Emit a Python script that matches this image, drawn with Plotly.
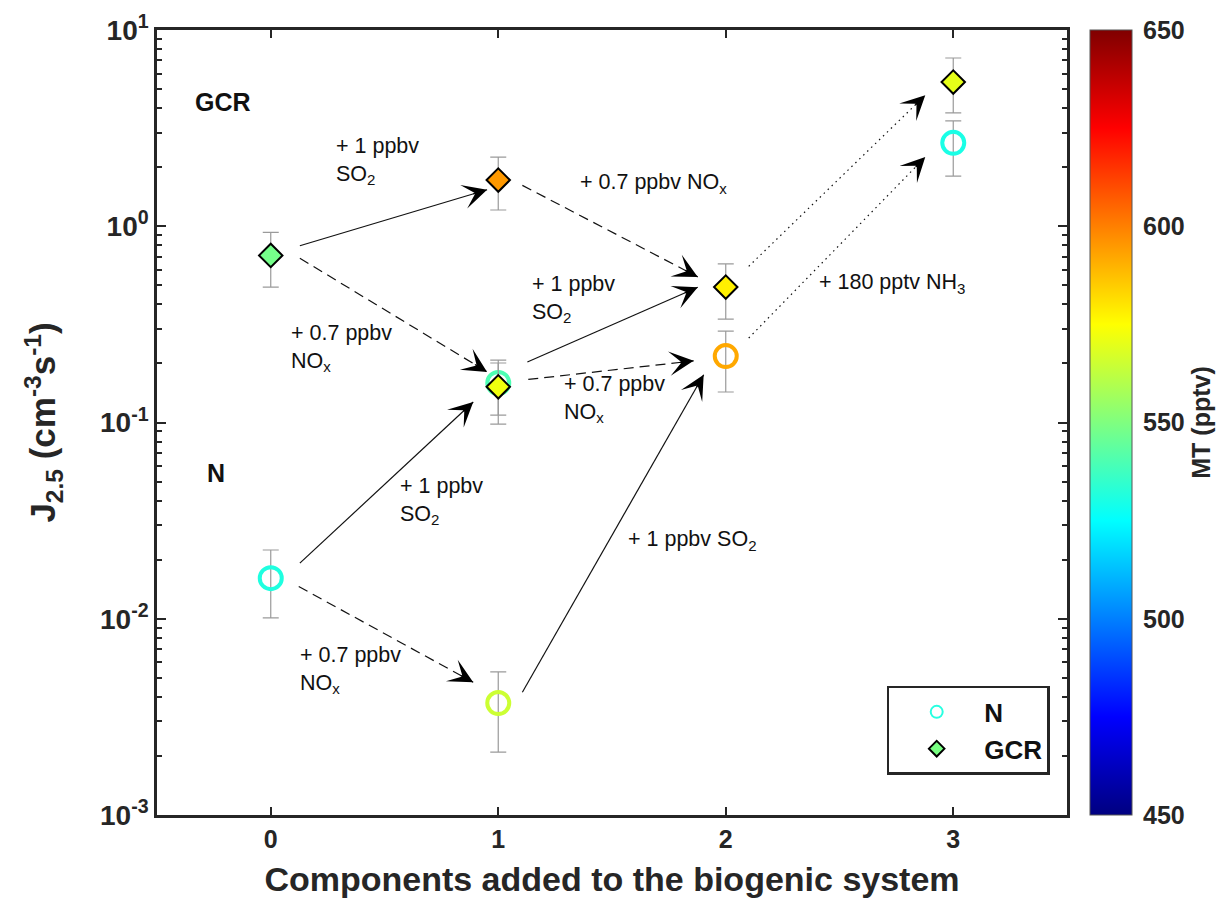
import math
import plotly.graph_objects as go

# ---------------- data ----------------
x_pos = [0, 1, 1, 2, 3]

n_y = [0.0161, 0.159, 0.00372, 0.218, 2.66]
n_up = [0.0224, 0.208, 0.00536, 0.292, 3.44]
n_lo = [0.0101, 0.109, 0.00209, 0.143, 1.80]
n_mt = [531, 540, 565, 592, 530]

gcr_y = [0.71, 1.72, 0.152, 0.49, 5.43]
gcr_up = [0.93, 2.25, 0.201, 0.643, 7.2]
gcr_lo = [0.49, 1.21, 0.098, 0.336, 3.78]
gcr_mt = [548, 595, 572, 578, 570]

y_tickvals = [1e-3, 1e-2, 1e-1, 1e0, 1e1]
y_ticktext = ["10<sup>-3</sup>", "10<sup>-2</sup>", "10<sup>-1</sup>", "10<sup>0</sup>", "10<sup>1</sup>"]
x_tickvals = [0, 1, 2, 3]
cb_tickvals = [450, 500, 550, 600, 650]

# (series, idx) -> (series, idx), line style, [fx0, fx1, dy0px, dy1px]
edges = [
    (("G", 0), ("G", 1), "solid", [0.128, 0.951, 0, 6]),
    (("G", 0), ("G", 2), "dash", [0.128, 0.951, -14, -8.5]),
    (("G", 1), ("G", 3), "dash", [0.106, 0.877, -6, 3]),
    (("G", 2), ("G", 3), "solid", [0.128, 0.877, -12, -12]),
    (("N", 1), ("N", 3), "dash", [0.132, 0.859, 0, 1]),
    (("N", 0), ("N", 1), "solid", [0.128, 0.89, 10, -2.5]),
    (("N", 0), ("N", 2), "dash", [0.123, 0.89, -7, -7]),
    (("N", 2), ("N", 3), "solid", [0.106, 0.903, 26, -15]),
    (("G", 3), ("G", 4), "dot", [0.101, 0.877, 0, -12]),
    (("N", 3), ("N", 4), "dot", [0.101, 0.877, 3.5, -12]),
]

labels = [
    ("+ 1 ppbv<br>SO<sub>2</sub>", 0.28, 0.33),
    ("+ 0.7 ppbv NO<sub>x</sub>", 1.35, 0.22),
    ("+ 1 ppbv<br>SO<sub>2</sub>", 1.14, -0.37),
    ("+ 180 pptv NH<sub>3</sub>", 2.4, -0.29),
    ("+ 0.7 ppbv<br>NO<sub>x</sub>", 0.08, -0.62),
    ("+ 0.7 ppbv<br>NO<sub>x</sub>", 1.28, -0.88),
    ("+ 1 ppbv<br>SO<sub>2</sub>", 0.56, -1.4),
    ("+ 1 ppbv SO<sub>2</sub>", 1.56, -1.6),
    ("+ 0.7 ppbv<br>NO<sub>x</sub>", 0.12, -2.26),
]

# ---------------- layout constants ----------------
W, H = 1232, 911
ML, MR, MT_, MB = 157, 165, 30, 96
PW, PH = W - ML - MR, H - MT_ - MB
XR = [-0.5, 3.5]
YR = [-3, 1]
FONT = "Liberation Sans, Arial, sans-serif"
AX = "#262626"

jet = [[0.0, "rgb(0,0,128)"], [0.125, "rgb(0,0,255)"], [0.375, "rgb(0,255,255)"],
       [0.625, "rgb(255,255,0)"], [0.875, "rgb(255,0,0)"], [1.0, "rgb(128,0,0)"]]


def to_px(x, ly):
    return (ML + (x - XR[0]) / (XR[1] - XR[0]) * PW,
            MT_ + (YR[1] - ly) / (YR[1] - YR[0]) * PH)


def from_px(px, py):
    return (XR[0] + (px - ML) / PW * (XR[1] - XR[0]),
            YR[1] - (py - MT_) / PH * (YR[1] - YR[0]))


pts = {"N": n_y, "G": gcr_y}

fig = go.Figure()
annotations = []

for (s0, i0), (s1, i1), style, (fx0, fx1, dy0, dy1) in edges:
    p0 = to_px(x_pos[i0], math.log10(pts[s0][i0]))
    p1 = to_px(x_pos[i1], math.log10(pts[s1][i1]))
    a = (p0[0] + fx0 * (p1[0] - p0[0]), p0[1] + fx0 * (p1[1] - p0[1]) + dy0)
    b = (p0[0] + fx1 * (p1[0] - p0[0]), p0[1] + fx1 * (p1[1] - p0[1]) + dy1)
    da, db = from_px(*a), from_px(*b)
    fig.add_trace(go.Scatter(
        x=[da[0], db[0]], y=[10 ** da[1], 10 ** db[1]], mode="lines",
        line=dict(color="#111111", width=1.2,
                  dash={"solid": "solid", "dash": "10px,6px", "dot": "1.5px,4px"}[style]),
        showlegend=False, hoverinfo="skip"))
    L = math.hypot(b[0] - a[0], b[1] - a[1])
    ux, uy = (b[0] - a[0]) / L, (b[1] - a[1]) / L
    annotations.append(dict(
        x=db[0], y=db[1], xref="x", yref="y", ax=-ux * 16, ay=-uy * 16,
        axref="pixel", ayref="pixel", showarrow=True, arrowhead=3, arrowsize=3.7,
        arrowwidth=1.1, arrowcolor="#000000", standoff=0, text=""))

# N series
fig.add_trace(go.Scatter(
    x=x_pos, y=n_y, mode="markers", showlegend=False,
    error_y=dict(type="data", symmetric=False,
                 array=[u - v for u, v in zip(n_up, n_y)],
                 arrayminus=[v - l for v, l in zip(n_y, n_lo)],
                 color="#9a9a9a", thickness=1.2, width=8),
    marker=dict(symbol="circle-open", size=22, color=n_mt, cmin=450, cmax=650,
                colorscale=jet, line=dict(width=4))))

# GCR series
fig.add_trace(go.Scatter(
    x=x_pos, y=gcr_y, mode="markers", showlegend=False,
    error_y=dict(type="data", symmetric=False,
                 array=[u - v for u, v in zip(gcr_up, gcr_y)],
                 arrayminus=[v - l for v, l in zip(gcr_y, gcr_lo)],
                 color="#9a9a9a", thickness=1.2, width=8),
    marker=dict(symbol="diamond", size=18, color=gcr_mt, cmin=450, cmax=650,
                colorscale=jet, line=dict(width=2, color="#000000"),
                colorbar=dict(
                    x=(1090 - ML) / PW, xanchor="left", xref="paper", xpad=0, ypad=0,
                    y=0.5, yanchor="middle", len=1.0, lenmode="fraction",
                    thickness=42, thicknessmode="pixels",
                    outlinecolor="#555555", outlinewidth=1,
                    tickvals=cb_tickvals, ticks="outside", ticklen=6, tickcolor="rgba(0,0,0,0)",
                    tickfont=dict(family=FONT, size=25, color=AX, weight="bold"),
                    title=dict(text="MT (pptv)", side="right",
                               font=dict(family=FONT, size=25, color=AX, weight="bold"))))))

# legend proxies
fig.add_trace(go.Scatter(x=[None], y=[None], mode="markers", name="N",
                         marker=dict(symbol="circle-open", size=13, color="rgb(40,255,225)",
                                     line=dict(width=4))))
fig.add_trace(go.Scatter(x=[None], y=[None], mode="markers", name="GCR",
                         marker=dict(symbol="diamond", size=14, color="rgb(120,255,130)",
                                     line=dict(width=1.5, color="#000000"))))

for txt, lx, ly in labels:
    annotations.append(dict(x=lx, y=ly, xref="x", yref="y", text=txt, showarrow=False,
                            xanchor="left", yanchor="middle", align="left",
                            font=dict(family=FONT, size=21.5, color="#111111")))

annotations.append(dict(x=-0.34, y=math.log10(4.3), xref="x", yref="y", text="GCR",
                        showarrow=False, xanchor="left", yanchor="middle",
                        font=dict(family=FONT, size=25, color="#111111", weight="bold")))
annotations.append(dict(x=-0.29, y=math.log10(0.055), xref="x", yref="y", text="N",
                        showarrow=False, xanchor="left", yanchor="middle",
                        font=dict(family=FONT, size=25, color="#111111", weight="bold")))

fig.update_layout(
    width=W, height=H, margin=dict(l=ML, r=MR, t=MT_, b=MB, autoexpand=False),
    paper_bgcolor="white", plot_bgcolor="white",
    font=dict(family=FONT, color=AX),
    annotations=annotations,
    legend=dict(x=0.981, xanchor="right", y=0.051, yanchor="bottom",
                bgcolor="white", bordercolor=AX, borderwidth=2.5,
                font=dict(family=FONT, size=26, color="#111111", weight="bold"),
                itemsizing="constant", itemwidth=85, tracegroupgap=0),
    xaxis=dict(range=XR, tickvals=x_tickvals, showgrid=False, zeroline=False,
               showline=True, linewidth=2.5, linecolor=AX, mirror="allticks",
               ticks="inside", ticklen=8, tickwidth=2, tickcolor=AX,
               tickfont=dict(family=FONT, size=25, color=AX, weight="bold"),
               title=dict(text="Components added to the biogenic system", standoff=16,
                          font=dict(family=FONT, size=34, color=AX, weight="bold"))),
    yaxis=dict(type="log", range=YR, tickvals=y_tickvals, ticktext=y_ticktext,
               showgrid=False, zeroline=False,
               showline=True, linewidth=2.5, linecolor=AX, mirror="allticks",
               ticks="inside", ticklen=9, tickwidth=2, tickcolor=AX,
               minor=dict(ticks="inside", ticklen=5, tickwidth=1.5, tickcolor=AX,
                          dtick="D1", showgrid=False),
               tickfont=dict(family=FONT, size=28, color=AX, weight="bold"),
               title=dict(text="J<sub>2.5</sub> (cm<sup>-3</sup>s<sup>-1</sup>)", standoff=34,
                          font=dict(family=FONT, size=35, color=AX, weight="bold"))),
)

fig.write_html("out.html")
